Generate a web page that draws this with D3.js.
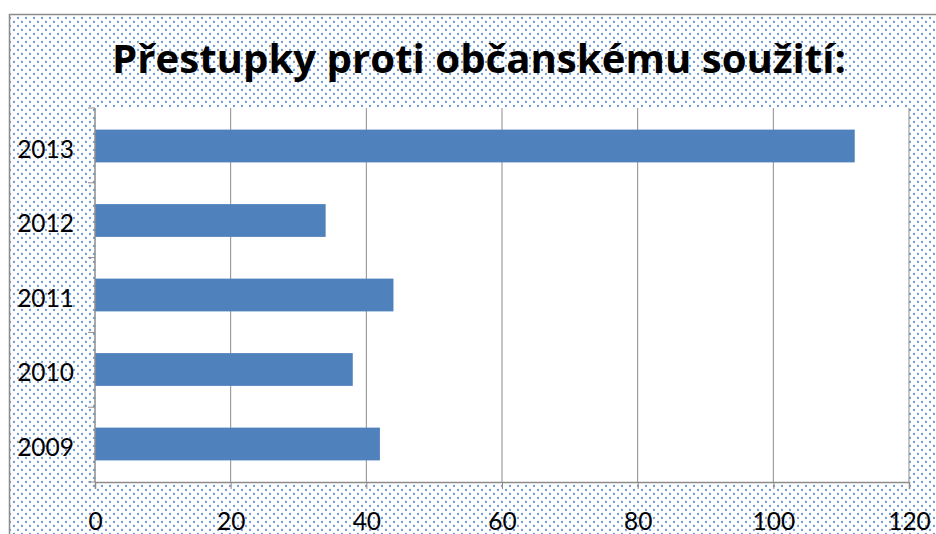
<!DOCTYPE html>
<html><head><meta charset="utf-8">
<script src="https://cdn.jsdelivr.net/npm/d3@7"></script>
<style>html,body{margin:0;padding:0;background:#fff;overflow:hidden}</style>
</head><body>
<script>
const title = "Přestupky proti občanskému soužití:";
const years = ["2009","2010","2011","2012","2013"];
const values = [42, 38, 44, 34, 112];
const xTicks = [0,20,40,60,80,100,120];

const W = 936, H = 534;
const svg = d3.select("body").append("svg").attr("width", W).attr("height", H);
const defs = svg.append("defs");
const pat = defs.append("pattern").attr("id","dots").attr("patternUnits","userSpaceOnUse")
  .attr("width",8).attr("height",8);
pat.append("rect").attr("width",8).attr("height",8).attr("fill","#fff");
pat.append("circle").attr("cx",2).attr("cy",2).attr("r",1.15).attr("fill","#6f9ad6");
pat.append("circle").attr("cx",6).attr("cy",6).attr("r",1.15).attr("fill","#6f9ad6");

svg.append("rect").attr("x",9.5).attr("y",14.5).attr("width",W).attr("height",H)
  .attr("fill","url(#dots)").attr("stroke","#8c8c8c").attr("stroke-width",1.5);

svg.append("text").attr("x",479).attr("y",73).attr("text-anchor","middle")
  .attr("font-family","Open Sans, Lato, sans-serif").attr("font-weight","bold")
  .attr("font-size",40).attr("textLength",734).attr("lengthAdjust","spacingAndGlyphs")
  .attr("fill","#000").text(title);

const m = {l:95, t:108, r:909, b:482};
const x = d3.scaleLinear().domain([0,120]).range([m.l, m.r]);
const y = d3.scaleBand().domain(years.slice().reverse()).range([m.t, m.b]).paddingInner(0.56).paddingOuter(0.29);

svg.append("rect").attr("x",m.l).attr("y",m.t).attr("width",m.r-m.l).attr("height",m.b-m.t).attr("fill","#fff");

svg.append("g").selectAll("line").data(xTicks.slice(1)).join("line")
  .attr("x1",d=>x(d)).attr("x2",d=>x(d)).attr("y1",m.t).attr("y2",m.b)
  .attr("stroke","#8c8c8c").attr("stroke-width",1);

svg.append("g").selectAll("rect").data(years).join("rect")
  .attr("x",x(0)).attr("y",d=>y(d)).attr("height",y.bandwidth())
  .attr("width",(d,i)=>x(values[i])-x(0)).attr("fill","#4f81bd");

const xa = svg.append("g").attr("transform",`translate(0,${m.b})`)
  .call(d3.axisBottom(x).tickValues(xTicks).tickSize(7).tickPadding(24));
xa.select(".domain").attr("stroke","#8c8c8c").attr("stroke-width",1.5);
xa.selectAll(".tick line").attr("stroke","#8c8c8c");
xa.selectAll("text").attr("font-family","Lato, Open Sans, sans-serif").attr("font-size",24.5).attr("fill","#000");

const yAxis = svg.append("g");
yAxis.append("line").attr("x1",m.l).attr("x2",m.l).attr("y1",m.t).attr("y2",m.b).attr("stroke","#8c8c8c").attr("stroke-width",1.5);
const step = (m.b-m.t)/years.length;
yAxis.selectAll("line.t").data(d3.range(years.length+1)).join("line").attr("class","t")
  .attr("x1",m.l-7).attr("x2",m.l).attr("y1",i=>m.t+i*step).attr("y2",i=>m.t+i*step).attr("stroke","#8c8c8c");
yAxis.selectAll("text.lbl").data(years).join("text").attr("class","lbl")
  .attr("x",74).attr("y",d=>y(d)+y.bandwidth()/2+3).attr("dy","0.36em").attr("text-anchor","end")
  .attr("font-family","Lato, Open Sans, sans-serif").attr("font-size",24.5).attr("fill","#000").text(d=>d);
</script>
</body></html>
